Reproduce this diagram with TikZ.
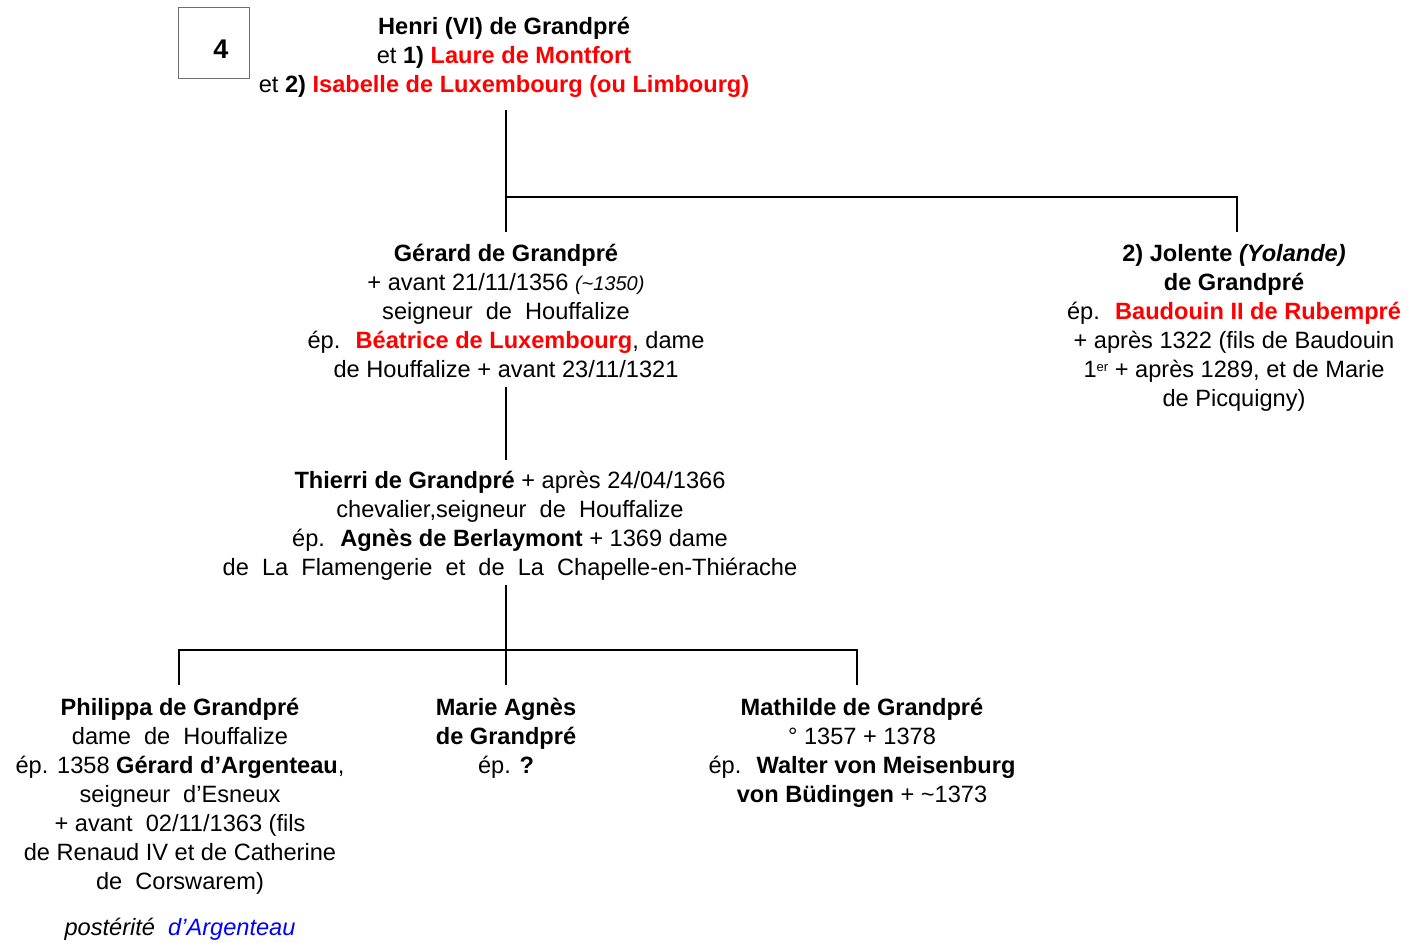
\documentclass[tikz,border=0pt]{standalone}
\usepackage{fontspec}
\setmainfont{Liberation Sans}
\definecolor{rouge}{RGB}{255,0,0}
\definecolor{bleu}{RGB}{0,0,255}
\definecolor{boxgray}{RGB}{110,110,110}
\begin{document}
\begin{tikzpicture}[x=1pt,y=-1pt,
  person/.style={align=center,anchor=north,inner sep=0pt,font=\fontsize{23.6}{29}\selectfont},
  link/.style={line width=1.6pt},
  numbox/.style={draw=boxgray,line width=0.8pt,minimum width=71pt,minimum height=71pt,inner sep=0pt},
  numtext/.style={inner sep=0pt,font=\fontsize{27}{28}\selectfont\bfseries}]
\useasboundingbox (0,0) rectangle (1428,943);
\node[numbox] (num) at (213.5,42.5) {};
\node[numtext] (numlabel) at (221,49) {4};
\node[person] (henri) at (504,17) {\textbf{Henri (VI) de Grandpré}\\
 et \textbf{1) \color{rouge}Laure de Montfort}\\
 et \textbf{2) \color{rouge}Isabelle de Luxembourg (ou Limbourg)}};
\node[person] (gerard) at (506,244) {\textbf{Gérard de Grandpré}\\
 + avant 21/11/1356 {\itshape\fontsize{20}{29}\selectfont(\textasciitilde1350)}\\
 seigneur~ de~ Houffalize\\
 ép.~ \textbf{\color{rouge}Béatrice de Luxembourg}, dame\\
 de Houffalize + avant 23/11/1321};
\node[person] (jolente) at (1234,244) {\textbf{2) Jolente \itshape(Yolande)}\\
 \textbf{de Grandpré}\\
 ép.~ \textbf{\color{rouge}Baudouin II de Rubempré}\\
 + après 1322 (fils de Baudouin\\
 1{\fontsize{13}{14}\selectfont\raisebox{6pt}{er}} + après 1289, et de Marie\\
 de Picquigny)};
\node[person] (thierri) at (510,471) {\textbf{Thierri de Grandpré} + après 24/04/1366\\
 chevalier,seigneur~ de~ Houffalize\\
 ép.~ \textbf{Agnès de Berlaymont} + 1369 dame\\
 de~ La~ Flamengerie~ et~ de~ La~ Chapelle-en-Thiérache};
\node[person] (philippa) at (180,698) {\textbf{Philippa de Grandpré}\\
 dame~ de~ Houffalize\\
 ép. 1358 \textbf{Gérard d’Argenteau},\\
 seigneur~ d’Esneux\\
 + avant~ 02/11/1363 (fils\\
 de Renaud IV et de Catherine\\
 de~ Corswarem)};
\node[person] (posterite) at (180,918) {\itshape postérité~ {\color{bleu}d’Argenteau}};
\node[person] (marie) at (506,698) {\textbf{Marie Agnès}\\
 \textbf{de Grandpré}\\
 ép. \textbf{?}};
\node[person] (mathilde) at (862,698) {\textbf{Mathilde de Grandpré}\\
 ° 1357 + 1378\\
 ép.~ \textbf{Walter von Meisenburg}\\
 \textbf{von Büdingen} + \textasciitilde1373};
% connectors
\coordinate (h0) at (506,110);
\coordinate (h1) at (506,197);
\coordinate (g0) at (506,232);
\coordinate (j1) at (1237,197);
\coordinate (j0) at (1237,232);
\coordinate (g1) at (506,387);
\coordinate (t0) at (506,460);
\coordinate (t1) at (506,585);
\coordinate (p1) at (179,650);
\coordinate (p0) at (179,685);
\coordinate (m0) at (506,685);
\coordinate (a1) at (857,650);
\coordinate (a0) at (857,685);
\draw[link] (h0) -- (g0);
\draw[link] (h1) -- (j1) -- (j0);
\draw[link] (g1) -- (t0);
\draw[link] (t1) -- (m0);
\draw[link] (p0) -- (p1) -- (a1) -- (a0);
\end{tikzpicture}
\end{document}
